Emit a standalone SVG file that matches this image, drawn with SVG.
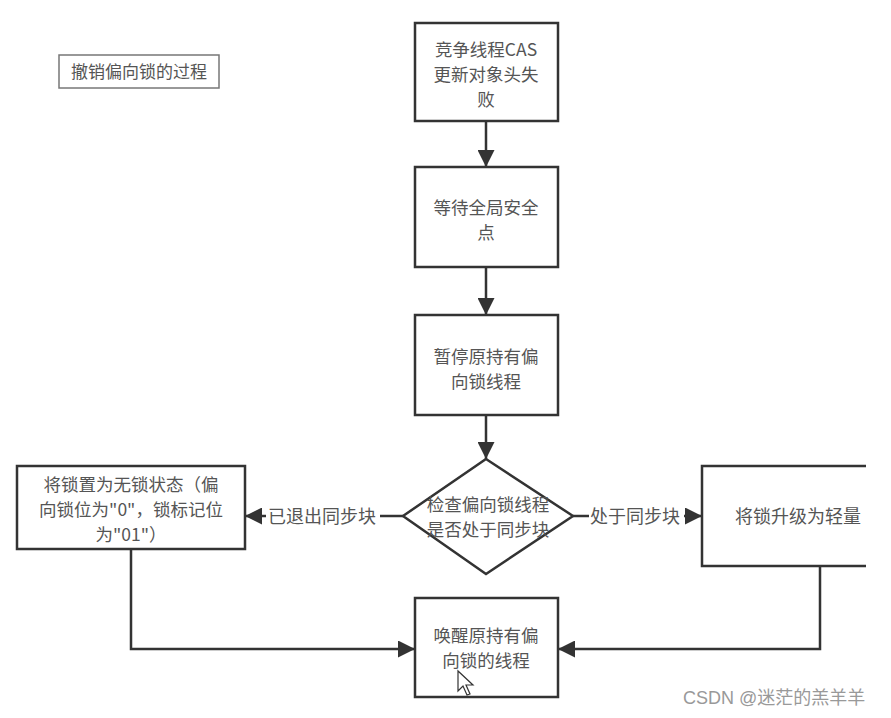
<svg xmlns="http://www.w3.org/2000/svg" width="891" height="718" viewBox="0 0 891 718">
<defs>
<style>
.box{fill:#fff;stroke:#333;stroke-width:2.5}
.t{font-family:"Noto Sans CJK SC","Liberation Sans",sans-serif;font-size:17.5px;fill:#555;text-anchor:middle}
.lbl{font-family:"Noto Sans CJK SC","Liberation Sans",sans-serif;font-size:18px;fill:#555}
.c{fill:none;stroke:#333;stroke-width:2.5}
</style>
<marker id="ah" viewBox="0 0 10 10" refX="10" refY="5" markerWidth="17" markerHeight="17" markerUnits="userSpaceOnUse" orient="auto">
<path d="M0,0 L10,5 L0,10 z" fill="#333"/>
</marker>
</defs>
<rect width="891" height="718" fill="#fff"/>
<g id="title">
<rect x="59" y="55" width="160" height="33" fill="#fff" stroke="#777" stroke-width="1.5"/>
<text class="t" x="139" y="78" style="font-size:17px">撤销偏向锁的过程</text>
</g>
<g id="connectors">
<path class="c" d="M486,121 V167" marker-end="url(#ah)"/>
<path class="c" d="M486,267 V315" marker-end="url(#ah)"/>
<path class="c" d="M486,415 V459" marker-end="url(#ah)"/>
<path class="c" d="M403,516 H380"/>
<path class="c" d="M266,516 H245" marker-end="url(#ah)"/>
<text class="lbl" x="268" y="523">已退出同步块</text>
<path class="c" d="M573,516 H589"/>
<path class="c" d="M684,516 H702" marker-end="url(#ah)"/>
<text class="lbl" x="590" y="523">处于同步块</text>
<path class="c" d="M131,549 V649 H415" marker-end="url(#ah)"/>
<path class="c" d="M820,566 V649 H558" marker-end="url(#ah)"/>
</g>
<g id="n1">
<rect class="box" x="415" y="23" width="143" height="98"/>
<text class="t" x="486" y="56">竞争线程CAS</text>
<text class="t" x="486" y="81">更新对象头失</text>
<text class="t" x="486" y="106">败</text>
</g>
<g id="n2">
<rect class="box" x="415" y="167" width="143" height="100"/>
<text class="t" x="486" y="214">等待全局安全</text>
<text class="t" x="486" y="239">点</text>
</g>
<g id="n3">
<rect class="box" x="415" y="315" width="143" height="100"/>
<text class="t" x="486" y="363">暂停原持有偏</text>
<text class="t" x="486" y="388">向锁线程</text>
</g>
<g id="n4">
<polygon class="box" points="486,459 573,516 486,574 403,516"/>
<text class="t" x="488" y="511">检查偏向锁线程</text>
<text class="t" x="488" y="536">是否处于同步块</text>
</g>
<g id="n5">
<rect class="box" x="17" y="466" width="228" height="83"/>
<text class="t" x="131" y="491">将锁置为无锁状态（偏</text>
<text class="t" x="131" y="516">向锁位为"0"，锁标记位</text>
<text class="t" x="131" y="541">为"01"）</text>
</g>
<g id="n6">
<path class="c" d="M866,466 H702 V566 H866" style="fill:#fff"/>
<text class="lbl" x="735" y="523">将锁升级为轻量</text>
</g>
<g id="n7">
<rect class="box" x="415" y="598" width="143" height="99"/>
<text class="t" x="486" y="642">唤醒原持有偏</text>
<text class="t" x="486" y="667">向锁的线程</text>
</g>
<g id="cursor">
<path d="M458,671 L458,691 L463,686 L467,695 L470,694 L466,685 L473,685 Z" fill="#fff" stroke="#333" stroke-width="1.2"/>
</g>
<text x="683" y="704" style="font-family:'Liberation Sans','Noto Sans CJK SC',sans-serif;font-size:18px;fill:#999">CSDN @迷茫的羔羊羊</text>
</svg>
